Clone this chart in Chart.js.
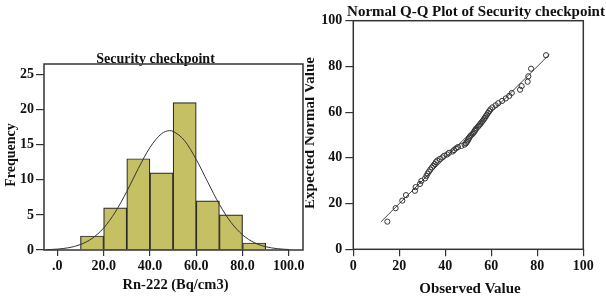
<!DOCTYPE html>
<html>
<head>
<meta charset="utf-8">
<script src="https://cdn.jsdelivr.net/npm/chart.js@4"></script>
<style>
  body{margin:0;background:#fff;}
  #wrap{position:relative;width:606px;height:300px;overflow:hidden;}
  canvas{position:absolute;top:0;}
  #hist{left:0;}
  #qq{left:305px;background:#fff;z-index:2;}
</style>
</head>
<body>
<div id="wrap">
  <canvas id="hist" width="330" height="300"></canvas>
  <canvas id="qq" width="301" height="300"></canvas>
</div>
<script>
// histogram: Rn-222 at the security checkpoint
const histBins = [15, 25, 35, 45, 55, 65, 75, 85];      // bin centres, width 10
const histCounts = [2, 6, 13, 11, 21, 7, 5, 1];
const curveX = [-5, 0, 5, 10, 15, 20, 25, 30, 35, 40, 45, 48.5, 50, 55, 60, 65, 70, 75, 80, 85, 90, 95, 100];
const curveY = [0.04, 0.13, 0.33, 0.78, 1.64, 3.13, 5.39, 8.33, 11.63, 14.6, 16.56, 17.0, 16.9, 15.56, 12.9, 9.65, 6.5, 3.94, 2.16, 1.06, 0.47, 0.19, 0.07];
const histXTicks = [0, 20, 40, 60, 80, 100];
const histXLabels = ['.0', '20.0', '40.0', '60.0', '80.0', '100.0'];
const histYTicks = [0, 5, 10, 15, 20, 25];

// normal Q-Q plot
const qqObserved = [14.8, 18.4, 21.3, 22.9, 26.8, 27.1, 29.0, 29.6,
  31.2, 31.8, 32.3, 32.9, 33.5, 34.2, 34.8, 35.4, 35.9, 36.5, 37.6, 38.7, 39.5,
  40.8, 41.6, 43.2, 43.8, 44.6, 45.5, 47.0, 48.4, 49.0, 49.4, 49.8,
  50.1, 50.4, 50.8, 51.3, 52.0, 52.4, 52.8, 53.1, 53.5, 54.2, 54.7, 55.2, 55.7, 56.2, 56.7, 57.2, 57.6, 58.1, 58.6, 59.1, 59.6,
  60.5, 61.9, 63.0, 64.7, 66.3, 67.8, 68.9, 72.5, 73.2, 75.8, 76.1, 77.3, 83.8];
const qqExpected = [12.1, 18.0, 21.3, 23.7, 25.6, 27.2, 28.6, 29.9, 31.0, 32.1,
  33.1, 34.0, 34.9, 35.8, 36.6, 37.3, 38.1, 38.8, 39.5, 40.2,
  40.9, 41.5, 42.2, 42.8, 43.4, 44.1, 44.7, 45.2, 45.8, 46.4,
  47.0, 47.6, 48.2, 48.8, 49.4, 50.0, 50.6, 51.2, 51.8, 52.3,
  52.9, 53.6, 54.2, 54.8, 55.5, 56.1, 56.8, 57.5, 58.2, 58.9,
  59.7, 60.4, 61.2, 62.1, 63.0, 63.9, 64.9, 66.0, 67.1, 68.4,
  69.8, 71.4, 73.3, 75.7, 79.0, 84.9];
const qqLineX = [12.1, 85.3];
const qqTicks = [0, 20, 40, 60, 80, 100];

const SERIF = '"Liberation Serif", "Times New Roman", serif';
const INK = '#111';
const tickFont = {family: SERIF, size: 14, weight: 'bold'};

// frame round the plot area + titles drawn as canvas text
const decor = {
  id: 'decor',
  afterDraw(chart, args, opts){
    const {ctx, chartArea: a} = chart;
    ctx.save();
    ctx.fillStyle = INK; ctx.textAlign = 'center'; ctx.textBaseline = 'middle';
    for(const t of opts.texts){
      ctx.save(); ctx.translate(t.x, t.y); if(t.rot) ctx.rotate(t.rot);
      ctx.font = t.font; ctx.fillText(t.text, 0, 0); ctx.restore();
    }
    ctx.strokeStyle = '#333'; ctx.lineWidth = 1.5;
    ctx.strokeRect(a.left, a.top, a.right - a.left, a.bottom - a.top);
    ctx.restore();
  }
};

function fixTicks(list){ return s => { s.ticks = list.map(v => ({value: v})); }; }

Chart.defaults.font.family = SERIF;
Chart.defaults.color = INK;

new Chart(document.getElementById('hist'), {
  type: 'bar',
  data: {
    datasets: [
      {type: 'line', order: 0, data: curveX.map((x, i) => ({x, y: curveY[i]})),
       borderColor: '#333', borderWidth: 1, pointRadius: 0, cubicInterpolationMode: 'monotone', fill: false},
      {type: 'bar', order: 1, data: histBins.map((x, i) => ({x, y: histCounts[i]})),
       backgroundColor: '#c5c063', borderColor: '#2a2a2a', borderWidth: 1.2,
       barPercentage: 1, categoryPercentage: 1}
    ]
  },
  options: {
    responsive: false, animation: false, devicePixelRatio: 1,
    layout: {padding: {left: 0, top: 64, right: 27, bottom: 0}},
    plugins: {
      legend: {display: false}, tooltip: {enabled: false},
      decor: {texts: [
        {text: 'Security checkpoint', x: 155.5, y: 59, font: 'bold 14px ' + SERIF},
        {text: 'Frequency', x: 11, y: 155, rot: -Math.PI/2, font: 'bold 14px ' + SERIF},
        {text: 'Rn-222 (Bq/cm3)', x: 175.5, y: 285, font: 'bold 14.5px ' + SERIF}
      ]}
    },
    scales: {
      x: {type: 'linear', min: -5.75, max: 106.1, offset: false,
          afterBuildTicks: fixTicks(histXTicks),
          afterFit: s => { s.height = 50; },
          grid: {display: true, drawOnChartArea: false, offset: false, tickLength: 6, color: '#333', lineWidth: 1.2},
          border: {display: false},
          ticks: {font: tickFont, padding: 2, maxRotation: 0, autoSkip: false,
                  callback: (v, i) => histXLabels[i]}},
      y: {min: 0, max: 26.5,
          afterBuildTicks: fixTicks(histYTicks),
          afterFit: s => { s.width = 44; },
          grid: {display: true, drawOnChartArea: false, tickLength: 8, color: '#333', lineWidth: 1.2},
          border: {display: false},
          ticks: {font: tickFont, padding: 2}}
    }
  },
  plugins: [decor]
});

new Chart(document.getElementById('qq'), {
  type: 'scatter',
  data: {
    datasets: [
      {type: 'line', order: 1, data: qqLineX.map(v => ({x: v, y: v})),
       borderColor: '#444', borderWidth: 1, pointRadius: 0, fill: false},
      {order: 0, data: qqObserved.map((x, i) => ({x, y: qqExpected[i]})),
       pointStyle: 'circle', pointRadius: 2.6, borderWidth: 1,
       borderColor: '#333', backgroundColor: 'rgba(0,0,0,0)'}
    ]
  },
  options: {
    responsive: false, animation: false, devicePixelRatio: 1,
    layout: {padding: {left: 0, top: 20.7, right: 22.7, bottom: 0}},
    plugins: {
      legend: {display: false}, tooltip: {enabled: false},
      decor: {texts: [
        {text: 'Normal Q-Q Plot of Security checkpoint', x: 171, y: 12, font: 'bold 15px ' + SERIF},
        {text: 'Expected Normal Value', x: 5, y: 133, rot: -Math.PI/2, font: 'bold 15px ' + SERIF},
        {text: 'Observed Value', x: 165, y: 289, font: 'bold 15px ' + SERIF}
      ]}
    },
    scales: {
      x: {type: 'linear', min: 0, max: 100,
          afterBuildTicks: fixTicks(qqTicks),
          afterFit: s => { s.height = 50.7; },
          grid: {display: true, drawOnChartArea: false, tickLength: 7, color: '#333', lineWidth: 1.2},
          border: {display: false},
          ticks: {font: tickFont, padding: 2, maxRotation: 0, autoSkip: false}},
      y: {type: 'linear', min: 0, max: 100,
          afterBuildTicks: fixTicks(qqTicks),
          afterFit: s => { s.width = 48.3; },
          grid: {display: true, drawOnChartArea: false, tickLength: 8, color: '#333', lineWidth: 1.2},
          border: {display: false},
          ticks: {font: tickFont, padding: 3}}
    }
  },
  plugins: [decor]
});
</script>
</body>
</html>
